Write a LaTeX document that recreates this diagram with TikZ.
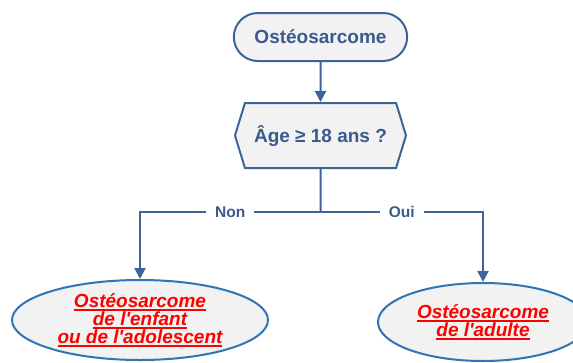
\documentclass[tikz,border=0pt]{standalone}
\usepackage{fontspec}
\setmainfont{Liberation Sans}[Ligatures=TeXOff]
\usepackage{tikz}
\usetikzlibrary{arrows.meta,positioning,shapes.geometric,shapes.misc,shapes.symbols}
\definecolor{traitbleu}{HTML}{3D6399}
\definecolor{textebleu}{HTML}{3B5B8E}
\definecolor{bordbleu}{HTML}{2E75B6}
\definecolor{fondgris}{HTML}{F2F2F2}
\newcommand{\souligne}[1]{\setbox0\hbox{#1}\rlap{\rule[-3.2pt]{\wd0}{1.3pt}}\box0}

\begin{document}
\begin{tikzpicture}[x=1pt,y=-1pt,>={Triangle[length=11pt,width=11pt]},
 terminal/.style={draw=traitbleu,line width=2pt,fill=fondgris,rounded rectangle,
   minimum width=180pt,minimum height=48pt,text=textebleu,font=\fontsize{19}{19}\selectfont\bfseries},
 decision/.style={draw=traitbleu,line width=2pt,fill=fondgris,signal,signal to=west and east,
   signal pointer angle=146,minimum width=171pt,minimum height=65pt,text=textebleu,
   font=\fontsize{19}{19}\selectfont\bfseries},
 issue/.style={draw=bordbleu,line width=2pt,fill=fondgris,ellipse,inner sep=0pt,align=center,
   text=red,font=\fontsize{19}{15.5}\selectfont\bfseries\itshape},
 arr/.style={->,draw=traitbleu,line width=2pt},
 lab/.style={font=\fontsize{15.5}{15.5}\selectfont\bfseries,text=textebleu,fill=white,inner xsep=9pt}]
\clip (0,0) rectangle (573,362);
\fill[white] (0,0) rectangle (573,362);
\node[terminal] (osteo) at (320.5,37) {Ostéosarcome};
\node[decision,below=40pt of osteo] (age) {Âge ≥ 18 ans ?};
\coordinate (split) at (320.5,212);
\node[issue,minimum width=256pt,minimum height=80pt] (enfant) at (140,320)
  {\souligne{Ostéosarcome}\\\souligne{de l'enfant}\\\souligne{ou de l'adolescent}};
\node[issue,minimum width=210pt,minimum height=78pt] (adulte) at (483,322)
  {\souligne{Ostéosarcome}\\\souligne{de l'adulte}};
\draw[arr] (osteo)--(age);
\draw[draw=traitbleu,line width=2pt] (age)--(split);
\draw[arr] (split) -| node[lab,pos=.25]{Non} (enfant);
\draw[arr] (split) -| node[lab,pos=.25]{Oui} (adulte);
\end{tikzpicture}
\end{document}
